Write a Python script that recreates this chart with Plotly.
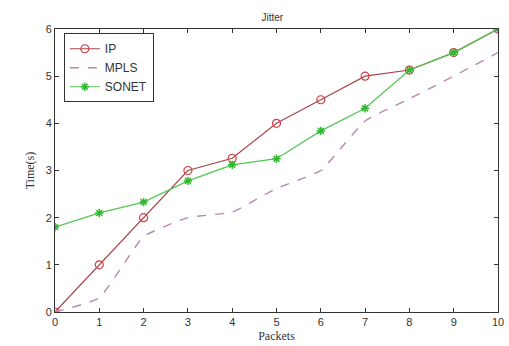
import plotly.graph_objects as go

packets = [0, 1, 2, 3, 4, 5, 6, 7, 8, 9, 10]
ip = [0, 1.0, 2.0, 3.0, 3.26, 4.0, 4.5, 5.0, 5.13, 5.5, 6.0]
mpls = [0, 0.3, 1.6, 2.0, 2.12, 2.62, 3.0, 4.05, 4.52, 5.0, 5.5]
sonet = [1.8, 2.1, 2.33, 2.78, 3.12, 3.25, 3.84, 4.32, 5.13, 5.5, 6.0]

fig = go.Figure()
fig.add_trace(go.Scatter(x=packets, y=ip, name="IP", mode="lines+markers",
                         line=dict(color="#a8454a", width=1.2),
                         marker=dict(symbol="circle-open", size=8, color="#d04048", line=dict(width=1.2))))
fig.add_trace(go.Scatter(x=packets, y=mpls, name="MPLS", mode="lines", line_shape="spline",
                         line=dict(color="#b888b0", width=1.4, dash="dash", smoothing=0.4)))
fig.add_trace(go.Scatter(x=packets, y=sonet, name="SONET", mode="lines+markers",
                         line=dict(color="#50c850", width=1.2),
                         marker=dict(symbol="asterisk-open", size=7, color="#30b830", line=dict(width=1.5, color="#30b830"))))

axis_common = dict(showline=True, linecolor="#333333", linewidth=1, mirror="ticks",
                   ticks="inside", ticklen=4, tickcolor="#333333", showgrid=False, zeroline=False,
                   ticklabeloverflow="allow",
                   tickfont=dict(family="Liberation Sans, Arial", size=11, color="#333333"))
fig.update_xaxes(range=[0, 10], dtick=1, title=dict(text="Packets", standoff=4,
                 font=dict(family="Liberation Serif, Times New Roman", size=12, color="#333333")), **axis_common)
fig.update_yaxes(range=[0, 6], dtick=1, title=dict(text="Time(s)", standoff=8,
                 font=dict(family="Liberation Serif, Times New Roman", size=12, color="#333333")), **axis_common)

fig.update_layout(
    width=509, height=346,
    margin=dict(l=55, r=5, t=29, b=34),
    paper_bgcolor="white", plot_bgcolor="white",
    title=dict(text="Jitter", x=0.535, xanchor="center", y=0.95, yanchor="middle",
               font=dict(family="Liberation Sans, Arial", size=10, color="#333333")),
    legend=dict(x=0.02, y=0.985, xanchor="left", yanchor="top", bordercolor="#333333", borderwidth=1,
                bgcolor="white", font=dict(family="Liberation Sans, Arial", size=12, color="#333333"),
                tracegroupgap=0, itemwidth=30),
    showlegend=True,
)

fig.write_html("out.html")
